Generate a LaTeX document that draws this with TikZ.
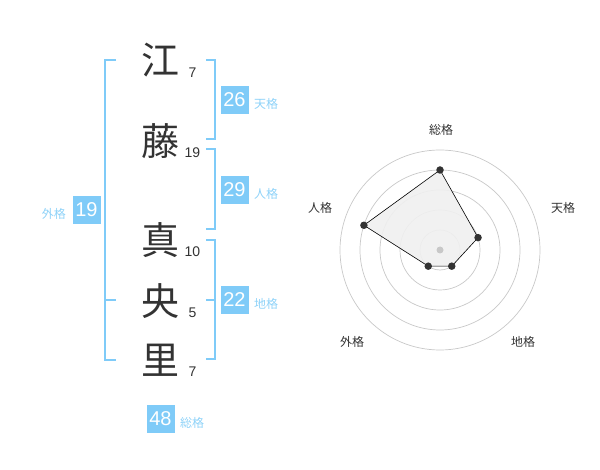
\documentclass[tikz,border=0pt]{standalone}
\usepackage{fontspec}
\newfontfamily\jp{Noto Sans CJK JP}
\setmainfont{Liberation Sans}
\definecolor{sky}{HTML}{7FCBF8}
\definecolor{skytext}{HTML}{8ED2F8}
\definecolor{ink}{HTML}{333333}
\definecolor{ring}{HTML}{C8C8C8}
\tikzset{
  kanji/.style={font=\jp\fontsize{38}{38}\selectfont, text=ink, inner sep=0pt},
  stroke/.style={font=\fontsize{14}{14}\selectfont, text=ink, inner sep=0pt},
  numbox/.style={fill=sky, text=white, minimum width=28pt, minimum height=28pt, inner sep=0pt, font=\fontsize{20}{20}\selectfont},
  grlabel/.style={font=\jp\fontsize{12}{12}\selectfont, text=skytext, inner sep=0pt},
  brk/.style={draw=sky, line width=1.5pt},
  axlabel/.style={font=\jp\fontsize{12}{12}\selectfont, text=ink, inner sep=0pt},
  ringline/.style={draw=ring, line width=0.7pt},
  vdot/.style={circle, fill=ink, minimum size=7.5pt, inner sep=0pt},
}
\begin{document}
\begin{tikzpicture}[x=1pt,y=-1pt]
\useasboundingbox (0,0) rectangle (600,470);
% kanji
\node[kanji] (k1) at (160,60) {江};
\node[kanji] (k2) at (160,141) {藤};
\node[kanji] (k3) at (160,240) {真};
\node[kanji] (k4) at (160,301) {央};
\node[kanji] (k5) at (160,360) {里};
\node[stroke] (s1) at (192.5,72.5) {7};
\node[stroke] (s2) at (192.5,152.5) {19};
\node[stroke] (s3) at (192.5,252) {10};
\node[stroke] (s4) at (192.5,313) {5};
\node[stroke] (s5) at (192.5,372) {7};
% brackets
\coordinate (lt) at (116,60); \coordinate (lb) at (116,360); \coordinate (lm) at (116,300);
\draw[brk] (lt) -- (105,60) -- (105,360) -- (lb);
\draw[brk] (105,300) -- (lm);
\coordinate (t1) at (206,60); \coordinate (t2) at (206,139);
\draw[brk] (t1) -- (215,60) -- (215,139) -- (t2);
\coordinate (j1) at (206,149); \coordinate (j2) at (206,229);
\draw[brk] (j1) -- (215,149) -- (215,229) -- (j2);
\coordinate (c1) at (206,240); \coordinate (c2) at (206,359); \coordinate (c3) at (206,300);
\draw[brk] (c1) -- (215,240) -- (215,359) -- (c2);
\draw[brk] (215,300) -- (c3);
% boxes
\node[numbox] (b1) at (234.5,100) {26};
\node[grlabel, anchor=west] (g1) at (254,104) {天格};
\node[numbox] (b2) at (234.5,190) {29};
\node[grlabel, anchor=west] (g2) at (254,194) {人格};
\node[numbox] (b3) at (234.5,300) {22};
\node[grlabel, anchor=west] (g3) at (254,304) {地格};
\node[numbox] (b4) at (86.5,210) {19};
\node[grlabel, anchor=east] (g4) at (66,214) {外格};
\node[numbox] (b5) at (160.5,419) {48};
\node[grlabel, anchor=west] (g5) at (180,423) {総格};
% radar
\coordinate (O) at (440,250);
\foreach \r in {20,40,60,80,100} \draw[ringline] (O) circle (\r);
\path (O) ++(0,-80) coordinate (p1)
      (O) ++({40*cos(18)},{-40*sin(18)}) coordinate (p2)
      (O) ++({20*cos(54)},{20*sin(54)}) coordinate (p3)
      (O) ++({-20*cos(54)},{20*sin(54)}) coordinate (p4)
      (O) ++({-80*cos(18)},{-80*sin(18)}) coordinate (p5);
\filldraw[fill=black!6, fill opacity=0.9, draw=black, line width=0.6pt] (p1) -- (p2) -- (p3) -- (p4) -- (p5) -- cycle;
\node[circle, fill=ring, minimum size=7pt, inner sep=0pt] (ctr) at (O) {};
\foreach \i in {1,...,5} \node[vdot] (d\i) at (p\i) {};
\node[axlabel] (a1) at (441,130) {総格};
\node[axlabel] (a2) at (563,208) {天格};
\node[axlabel] (a3) at (523,342) {地格};
\node[axlabel] (a4) at (352,342) {外格};
\node[axlabel] (a5) at (320,208) {人格};
\end{tikzpicture}
\end{document}
